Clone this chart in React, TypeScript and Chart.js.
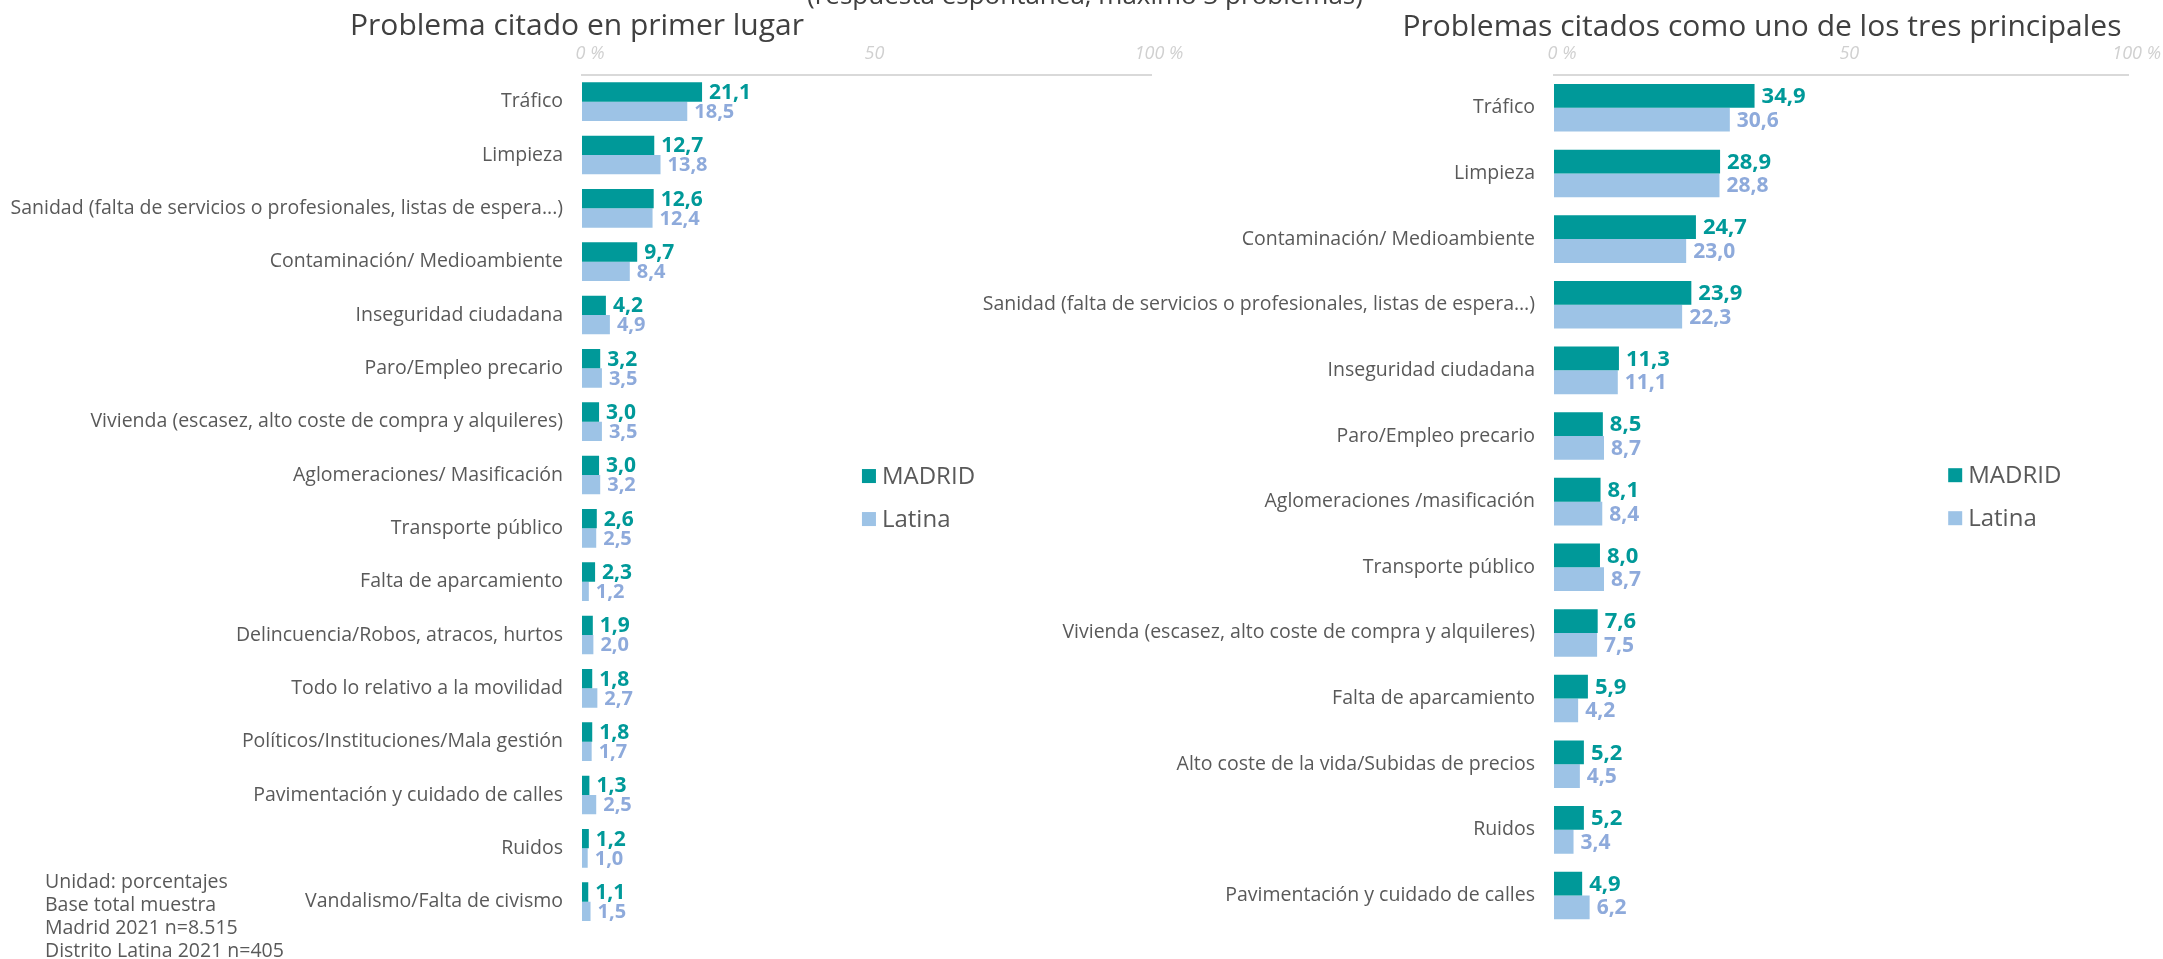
import React, { useEffect, useRef } from "react";
import { Chart, registerables } from "chart.js";

Chart.register(...registerables);

const W = 2163;
const H = 959;
const FONT = "'Open Sans', 'DejaVu Sans', sans-serif";

// ---------- data ----------
const seriesNames = ["MADRID", "Latina"];
const xTickLabels = ["0 %", "50", "100 %"];

const categoriesFirst = [
  "Tráfico",
  "Limpieza",
  "Sanidad (falta de servicios o profesionales, listas de espera...)",
  "Contaminación/ Medioambiente",
  "Inseguridad ciudadana",
  "Paro/Empleo precario",
  "Vivienda (escasez, alto coste de compra y alquileres)",
  "Aglomeraciones/ Masificación",
  "Transporte público",
  "Falta de aparcamiento",
  "Delincuencia/Robos, atracos, hurtos",
  "Todo lo relativo a la movilidad",
  "Políticos/Instituciones/Mala gestión",
  "Pavimentación y cuidado de calles",
  "Ruidos",
  "Vandalismo/Falta de civismo",
];
const madridFirst = [21.1, 12.7, 12.6, 9.7, 4.2, 3.2, 3.0, 3.0, 2.6, 2.3, 1.9, 1.8, 1.8, 1.3, 1.2, 1.1];
const latinaFirst = [18.5, 13.8, 12.4, 8.4, 4.9, 3.5, 3.5, 3.2, 2.5, 1.2, 2.0, 2.7, 1.7, 2.5, 1.0, 1.5];

const categoriesTop3 = [
  "Tráfico",
  "Limpieza",
  "Contaminación/ Medioambiente",
  "Sanidad (falta de servicios o profesionales, listas de espera…)",
  "Inseguridad ciudadana",
  "Paro/Empleo precario",
  "Aglomeraciones /masificación",
  "Transporte público",
  "Vivienda (escasez, alto coste de compra y alquileres)",
  "Falta de aparcamiento",
  "Alto coste de la vida/Subidas de precios",
  "Ruidos",
  "Pavimentación y cuidado de calles",
];
const madridTop3 = [34.9, 28.9, 24.7, 23.9, 11.3, 8.5, 8.1, 8.0, 7.6, 5.9, 5.2, 5.2, 4.9];
const latinaTop3 = [30.6, 28.8, 23.0, 22.3, 11.1, 8.7, 8.4, 8.7, 7.5, 4.2, 4.5, 3.4, 6.2];

const titleFirst = "Problema citado en primer lugar";
const titleTop3 = "Problemas citados como uno de los tres principales";
const subtitle = "(respuesta espontánea, máximo 3 problemas)";
const notes = ["Unidad: porcentajes", "Base total muestra", "Madrid 2021 n=8.515", "Distrito Latina 2021 n=405"];

// ---------- styles ----------
const MADRID_COLOR = "#009999";
const LATINA_COLOR = "#9DC3E6";
const LATINA_TEXT = "#8EAADB";
const LABEL_COLOR = "#595959";
const TITLE_COLOR = "#404040";

const fmt = (v: number) => v.toFixed(1).replace(".", ",");

type Extra = {
  title: string;
  titleX: number;
  titleY: number;
  valueFont: number;
  legendFx: number;
  legendFy: number;
  drawSubtitle: boolean;
};

const valueLabelsPlugin = {
  id: "valueLabels",
  afterDatasetsDraw(chart: any, _args: any, opts: any) {
    const ctx = chart.ctx;
    ctx.save();
    ctx.textBaseline = "middle";
    ctx.textAlign = "left";
    chart.data.datasets.forEach((ds: any, di: number) => {
      const meta = chart.getDatasetMeta(di);
      ctx.fillStyle = di === 0 ? MADRID_COLOR : LATINA_TEXT;
      ctx.font = `bold ${di === 0 ? opts.size : opts.size - 1}px ${FONT}`;
      meta.data.forEach((el: any, i: number) => {
        ctx.fillText(fmt(ds.data[i]), el.x + 7, el.y + 1);
      });
    });
    ctx.restore();
  },
};

const decorPlugin = {
  id: "decor",
  afterDraw(chart: any, _args: any, opts: Extra) {
    const ctx = chart.ctx;
    const area = chart.chartArea;
    ctx.save();
    // title
    ctx.fillStyle = TITLE_COLOR;
    ctx.font = `30px ${FONT}`;
    ctx.textAlign = "center";
    ctx.textBaseline = "alphabetic";
    ctx.fillText(opts.title, opts.titleX, opts.titleY);
    if (opts.drawSubtitle) {
      ctx.font = `26px ${FONT}`;
      ctx.fillText(subtitle, 1085, 4);
      ctx.textAlign = "left";
      ctx.fillStyle = LABEL_COLOR;
      ctx.font = `19.5px ${FONT}`;
      ctx.textBaseline = "middle";
      notes.forEach((n, i) => ctx.fillText(n, 45, 882 + i * 23));
    }
    // legend
    const lx = area.left + (area.right - area.left) * opts.legendFx;
    const ly = area.top + (area.bottom - area.top) * opts.legendFy;
    const colors = [MADRID_COLOR, LATINA_COLOR];
    ctx.textAlign = "left";
    ctx.textBaseline = "middle";
    ctx.font = `24px ${FONT}`;
    seriesNames.forEach((name, i) => {
      const y = ly + i * 43;
      ctx.fillStyle = colors[i];
      ctx.fillRect(lx, y - 7, 14, 14);
      ctx.fillStyle = LABEL_COLOR;
      ctx.fillText(name, lx + 20, y + 1);
    });
    ctx.restore();
  },
};

function makeConfig(
  cats: string[],
  madrid: number[],
  latina: number[],
  axisWidth: number,
  padRight: number,
  padBottom: number,
  extra: Extra
): any {
  return {
    type: "bar",
    data: {
      labels: cats,
      datasets: [
        { label: seriesNames[0], data: madrid, backgroundColor: MADRID_COLOR, borderWidth: 0 },
        { label: seriesNames[1], data: latina, backgroundColor: LATINA_COLOR, borderWidth: 0 },
      ],
    },
    plugins: [valueLabelsPlugin, decorPlugin],
    options: {
      indexAxis: "y",
      responsive: false,
      animation: false,
      maintainAspectRatio: false,
      layout: { padding: { left: 0, top: 0, right: padRight, bottom: padBottom } },
      datasets: { bar: { categoryPercentage: 0.725, barPercentage: 1.0 } },
      scales: {
        x: {
          position: "top",
          min: 0,
          max: 100,
          afterBuildTicks: (scale: any) => {
            scale.ticks = [0, 50, 100].map((v) => ({ value: v }));
          },
          afterFit: (scale: any) => {
            scale.height = 75;
          },
          ticks: {
            color: "#D0D0D0",
            font: { family: FONT, size: 18, style: "italic" },
            padding: 10,
            labelOffset: 8,
            maxRotation: 0,
            callback: (_v: any, i: number) => xTickLabels[i],
          },
          grid: { display: false, drawTicks: false },
          border: { display: true, color: "#D9D9D9", width: 2 },
        },
        y: {
          afterFit: (scale: any) => {
            scale.width = axisWidth;
          },
          ticks: {
            color: LABEL_COLOR,
            font: { family: FONT, size: 19.5 },
            padding: 19,
            autoSkip: false,
          },
          grid: { display: false, drawTicks: false },
          border: { display: false },
        },
      },
      plugins: {
        legend: { display: false },
        title: { display: false },
        tooltip: { enabled: false },
        valueLabels: { size: extra.valueFont },
        decor: extra,
      },
    },
  };
}

function ChartCanvas({ config, z }: { config: any; z: number }) {
  const ref = useRef<HTMLCanvasElement>(null);
  useEffect(() => {
    if (!ref.current) return;
    const chart = new Chart(ref.current, config);
    return () => chart.destroy();
  }, [config]);
  return (
    <canvas
      ref={ref}
      width={W}
      height={H}
      style={{ position: "absolute", left: 0, top: 0, width: W, height: H, zIndex: z }}
    />
  );
}

const configFirst = makeConfig(categoriesFirst, madridFirst, latinaFirst, 582, W - 1151, H - 936, {
  title: titleFirst,
  titleX: 577,
  titleY: 35,
  valueFont: 21,
  legendFx: 0.492,
  legendFy: 0.47,
  drawSubtitle: true,
});

const configTop3 = makeConfig(categoriesTop3, madridTop3, latinaTop3, 1554, W - 2136, H - 933, {
  title: titleTop3,
  titleX: 1762,
  titleY: 36,
  valueFont: 22,
  legendFx: 0.686,
  legendFy: 0.469,
  drawSubtitle: false,
});

export default function App() {
  return (
    <div
      style={{
        position: "absolute",
        left: 0,
        top: 0,
        width: W,
        height: H,
        background: "#ffffff",
        overflow: "hidden",
      }}
    >
      <ChartCanvas config={configFirst} z={1} />
      <ChartCanvas config={configTop3} z={2} />
    </div>
  );
}
